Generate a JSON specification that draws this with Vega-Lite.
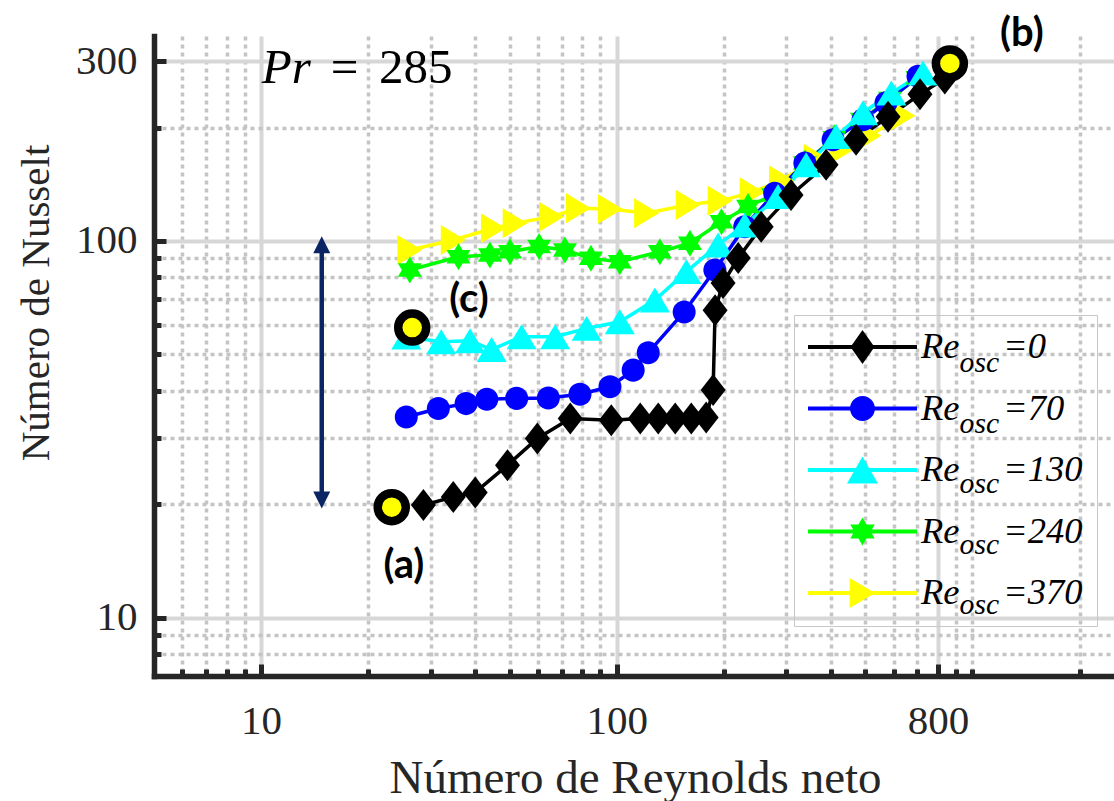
{
  "$schema": "https://vega.github.io/schema/vega-lite/v6.json",
  "width": 960,
  "height": 640,
  "autosize": {"type": "none"},
  "padding": {"left": 154, "top": 36, "right": 0, "bottom": 125},
  "background": "white",
  "config": {"view": {"stroke": null}},
  "datasets": {
    "curves": [
      {"series": "370", "Re": 26.2, "Nu": 94.6}, {"series": "370", "Re": 34.7, "Nu": 100.6}, {"series": "370", "Re": 45.0, "Nu": 108.1}, {"series": "370", "Re": 51.8, "Nu": 111.4}, {"series": "370", "Re": 65.6, "Nu": 116.0}, {"series": "370", "Re": 78.0, "Nu": 122.2}, {"series": "370", "Re": 95.9, "Nu": 121.6}, {"series": "370", "Re": 121.3, "Nu": 118.5}, {"series": "370", "Re": 158.8, "Nu": 124.7}, {"series": "370", "Re": 195.3, "Nu": 127.8}, {"series": "370", "Re": 240.2, "Nu": 134.6}, {"series": "370", "Re": 290.4, "Nu": 144.8}, {"series": "370", "Re": 363.4, "Nu": 165.2}, {"series": "370", "Re": 434.9, "Nu": 176.2}, {"series": "370", "Re": 512, "Nu": 190.3}, {"series": "370", "Re": 638, "Nu": 215},
      {"series": "240", "Re": 26.2, "Nu": 83.7}, {"series": "240", "Re": 35.9, "Nu": 90.8}, {"series": "240", "Re": 44.0, "Nu": 91.8}, {"series": "240", "Re": 50.1, "Nu": 93.6}, {"series": "240", "Re": 60.5, "Nu": 96.6}, {"series": "240", "Re": 71.5, "Nu": 94.6}, {"series": "240", "Re": 84.6, "Nu": 89.9}, {"series": "240", "Re": 102, "Nu": 88.1}, {"series": "240", "Re": 132.2, "Nu": 93.6}, {"series": "240", "Re": 160.6, "Nu": 98.6}, {"series": "240", "Re": 197, "Nu": 112.5}, {"series": "240", "Re": 234, "Nu": 123.4}, {"series": "240", "Re": 275, "Nu": 132.5}, {"series": "240", "Re": 338, "Nu": 161}, {"series": "240", "Re": 409, "Nu": 188}, {"series": "240", "Re": 489, "Nu": 210}, {"series": "240", "Re": 586, "Nu": 238.7}, {"series": "240", "Re": 700, "Nu": 271},
      {"series": "70", "Re": 25.6, "Nu": 34.1}, {"series": "70", "Re": 31.5, "Nu": 35.9}, {"series": "70", "Re": 37.7, "Nu": 37.0}, {"series": "70", "Re": 43.1, "Nu": 38.0}, {"series": "70", "Re": 52.3, "Nu": 38.2}, {"series": "70", "Re": 64.2, "Nu": 38.3}, {"series": "70", "Re": 78.8, "Nu": 39.2}, {"series": "70", "Re": 95.7, "Nu": 41.0}, {"series": "70", "Re": 111.2, "Nu": 45.4}, {"series": "70", "Re": 122.6, "Nu": 50.5}, {"series": "70", "Re": 154.7, "Nu": 64.8}, {"series": "70", "Re": 188.7, "Nu": 83.7}, {"series": "70", "Re": 229, "Nu": 109.1}, {"series": "70", "Re": 278, "Nu": 133.9}, {"series": "70", "Re": 338, "Nu": 160.9}, {"series": "70", "Re": 405.6, "Nu": 185.6}, {"series": "70", "Re": 492.5, "Nu": 209.8}, {"series": "70", "Re": 571.5, "Nu": 232.8}, {"series": "70", "Re": 703, "Nu": 273.5},
      {"series": "130", "Re": 25.6, "Nu": 55.6}, {"series": "130", "Re": 32.1, "Nu": 54.0}, {"series": "130", "Re": 38.7, "Nu": 54.3}, {"series": "130", "Re": 44.5, "Nu": 51.5}, {"series": "130", "Re": 54.0, "Nu": 55.7}, {"series": "130", "Re": 67.1, "Nu": 55.7}, {"series": "130", "Re": 82.3, "Nu": 58.6}, {"series": "130", "Re": 102, "Nu": 61.0}, {"series": "130", "Re": 128, "Nu": 69.7}, {"series": "130", "Re": 157, "Nu": 82.9}, {"series": "130", "Re": 192.8, "Nu": 97.6}, {"series": "130", "Re": 229, "Nu": 110.3}, {"series": "130", "Re": 284, "Nu": 131.2}, {"series": "130", "Re": 340.7, "Nu": 159.3}, {"series": "130", "Re": 413.6, "Nu": 189.4}, {"series": "130", "Re": 492.5, "Nu": 219}, {"series": "130", "Re": 591.5, "Nu": 247}, {"series": "130", "Re": 726, "Nu": 279},
      {"series": "0", "Re": 28.6, "Nu": 19.9}, {"series": "0", "Re": 34.7, "Nu": 20.9}, {"series": "0", "Re": 40.0, "Nu": 21.5}, {"series": "0", "Re": 49.3, "Nu": 25.4}, {"series": "0", "Re": 59.8, "Nu": 29.9}, {"series": "0", "Re": 74.0, "Nu": 33.8}, {"series": "0", "Re": 96.5, "Nu": 33.4}, {"series": "0", "Re": 116.4, "Nu": 33.8}, {"series": "0", "Re": 130.8, "Nu": 33.8}, {"series": "0", "Re": 146, "Nu": 33.8}, {"series": "0", "Re": 162, "Nu": 33.8}, {"series": "0", "Re": 178.4, "Nu": 34.0}, {"series": "0", "Re": 186.6, "Nu": 40.2}, {"series": "0", "Re": 189, "Nu": 65.5}, {"series": "0", "Re": 199, "Nu": 77.3}, {"series": "0", "Re": 219.5, "Nu": 90.1}, {"series": "0", "Re": 254.7, "Nu": 109}, {"series": "0", "Re": 309, "Nu": 132.5}, {"series": "0", "Re": 387.7, "Nu": 159.3}, {"series": "0", "Re": 470.8, "Nu": 185.6}, {"series": "0", "Re": 579, "Nu": 213.7}, {"series": "0", "Re": 712, "Nu": 245}, {"series": "0", "Re": 836, "Nu": 270}
    ],
    "seriesList": [{"series": "0"}, {"series": "70"}, {"series": "130"}, {"series": "240"}, {"series": "370"}],
    "highlights": [{"x": 23.3, "y": 19.65}, {"x": 864, "y": 296}, {"x": 26.6, "y": 58.9}],
    "letters": [{"label": "(a)", "x": 25.2, "y": 13.71}, {"label": "(b)", "x": 1377, "y": 353.5}, {"label": "(c)", "x": 38.4, "y": 69.6}],
    "arrow": [{"x": 14.81, "top": 97.7, "bottom": 20.53}],
    "prVar": [{"label": "Pr", "x": 10.05, "y": 262}],
    "prVal": [{"label": "=", "x": 15.71, "y": 262}, {"label": "285", "x": 21.44, "y": 262}]
  },
  "layer": [
    {
      "data": {"name": "curves"},
      "mark": {"type": "line", "strokeWidth": 3.5},
      "encoding": {
        "x": {
          "field": "Re", "type": "quantitative",
          "scale": {"type": "log", "domain": [5, 2500], "nice": false},
          "axis": {
            "values": [10, 100, 800], "format": "d", "orient": "bottom",
            "grid": true, "gridColor": "#d7d7d7", "gridWidth": 4,
            "ticks": true, "tickSize": -12, "tickWidth": 5, "tickColor": "#262626",
            "domain": true, "domainColor": "#262626", "domainWidth": 5.5, "domainCap": "square",
            "labelFont": "Liberation Serif", "labelFontSize": 41, "labelColor": "#262626",
            "labelBaseline": "alphabetic", "labelPadding": 69, "labelFlush": false, "labelOverlap": false,
            "title": "Número de Reynolds neto", "titleFont": "Liberation Serif", "titleFontSize": 47,
            "titleFontWeight": "normal", "titleColor": "#262626", "titleX": 481, "titleY": 116,
            "titleAlign": "center", "titleBaseline": "alphabetic", "titleAngle": 0
          }
        },
        "y": {
          "field": "Nu", "type": "quantitative",
          "scale": {"type": "log", "domain": [7, 350], "nice": false},
          "axis": {
            "values": [10, 100, 300], "format": "d", "orient": "left",
            "grid": true, "gridColor": "#d7d7d7", "gridWidth": 4,
            "ticks": true, "tickSize": -12, "tickWidth": 5, "tickColor": "#262626",
            "domain": true, "domainColor": "#262626", "domainWidth": 5.5, "domainCap": "square",
            "labelFont": "Liberation Serif", "labelFontSize": 41, "labelColor": "#262626",
            "labelPadding": 29, "labelBaseline": "middle", "labelAlign": "right", "labelFlush": false, "labelOverlap": false,
            "title": "Número de Nusselt", "titleFont": "Liberation Serif", "titleFontSize": 41,
            "titleFontWeight": "normal", "titleColor": "#262626", "titleX": -118, "titleY": 266.5,
            "titleAngle": 270, "titleAlign": "center", "titleBaseline": "middle"
          }
        },
        "color": {
          "field": "series", "type": "nominal",
          "scale": {"domain": ["0", "70", "130", "240", "370"], "range": ["#000000", "#0000ff", "#00ffff", "#00ff00", "#ffff00"]},
          "legend": null
        }
      }
    },
    {
      "data": {"name": "curves"},
      "mark": {"type": "point", "filled": true, "opacity": 1, "strokeWidth": 0, "size": 1024},
      "encoding": {
        "x": {
          "field": "Re", "type": "quantitative",
          "scale": {"type": "log", "domain": [5, 2500], "nice": false},
          "axis": {
            "values": [6, 7, 8, 9, 20, 30, 40, 50, 60, 70, 80, 90, 200, 300, 400, 500, 600, 700, 900, 1000, 2000],
            "orient": "bottom", "grid": true, "gridColor": "#c4c4c4", "gridDash": [4, 4], "gridWidth": 3.5,
            "ticks": true, "tickSize": -7, "tickWidth": 5, "tickColor": "#262626",
            "domain": false, "labels": false, "title": null
          }
        },
        "y": {
          "field": "Nu", "type": "quantitative",
          "scale": {"type": "log", "domain": [7, 350], "nice": false},
          "axis": {
            "values": [8, 9, 20, 30, 40, 50, 60, 70, 80, 90, 200],
            "orient": "left", "grid": true, "gridColor": "#c4c4c4", "gridDash": [4, 4], "gridWidth": 3.5,
            "ticks": true, "tickSize": -7, "tickWidth": 5, "tickColor": "#262626",
            "domain": false, "labels": false, "title": null
          }
        },
        "color": {
          "field": "series", "type": "nominal",
          "scale": {"domain": ["0", "70", "130", "240", "370"], "range": ["#000000", "#0000ff", "#00ffff", "#00ff00", "#ffff00"]},
          "legend": null
        },
        "shape": {
          "field": "series", "type": "nominal",
          "scale": {
            "domain": ["0", "70", "130", "240", "370"],
            "range": [
              "M0,-1L0.78,0L0,1L-0.78,0Z",
              "M-0.72,0A0.72,0.72 0 1,1 0.72,0A0.72,0.72 0 1,1 -0.72,0Z",
              "M0,-0.78L0.94,0.78L-0.94,0.78Z",
              "M0,-0.844L0.25,-0.422L0.75,-0.422L0.5,0L0.75,0.422L0.25,0.422L0,0.844L-0.25,0.422L-0.75,0.422L-0.5,0L-0.75,-0.422L-0.25,-0.422Z",
              "M0.78,0L-0.78,0.94L-0.78,-0.94Z"
            ]
          },
          "legend": null
        }
      }
    },
    {
      "data": {"name": "seriesList"},
      "transform": [{"filter": "false"}],
      "mark": {"type": "point", "filled": true, "opacity": 0},
      "encoding": {
        "fill": {
          "field": "series", "type": "nominal",
          "scale": {"domain": ["0", "70", "130", "240", "370"], "range": ["transparent", "transparent", "transparent", "transparent", "transparent"]},
          "legend": {
            "orient": "none", "legendX": 640, "legendY": 279, "direction": "vertical", "title": null,
            "padding": 14, "strokeColor": "#c8c8c8",
            "symbolSize": 38025, "symbolStrokeWidth": 0, "symbolOpacity": 0,
            "clipHeight": 36, "rowPadding": 24.5, "labelOffset": 0,
            "labelFont": "Liberation Serif", "labelFontStyle": "italic", "labelFontSize": 36.5, "labelColor": "#000000", "labelLimit": 300,
            "labelExpr": "'=' + datum.label"
          }
        }
      }
    },
    {
      "data": {"name": "seriesList"},
      "transform": [{"filter": "false"}],
      "mark": {"type": "point", "filled": true, "opacity": 1, "strokeWidth": 0},
      "encoding": {
        "color": {
          "field": "series", "type": "nominal",
          "scale": {"domain": ["0", "70", "130", "240", "370"], "range": ["#000000", "#0000ff", "#00ffff", "#00ff00", "#ffff00"]},
          "legend": {
            "orient": "none", "legendX": 640, "legendY": 279, "direction": "vertical", "title": null,
            "padding": 14,
            "symbolSize": 11881, "symbolStrokeWidth": 0, "symbolOpacity": 1,
            "clipHeight": 36, "rowPadding": 24.5, "labelOffset": 4,
            "labelFont": "Liberation Serif", "labelFontStyle": "italic", "labelFontSize": 36.5, "labelColor": "#000000", "labelLimit": 300,
            "labelExpr": "'Re'"
          }
        },
        "shape": {
          "field": "series", "type": "nominal",
          "scale": {
            "domain": ["0", "70", "130", "240", "370"],
            "range": [
              "M-1,-0.037H1V0.037H-1ZM0,-0.312L0.22,0L0,0.312L-0.22,0Z",
              "M-1,-0.037H1V0.037H-1ZM-0.229,0A0.229,0.229 0 1,1 0.229,0A0.229,0.229 0 1,1 -0.229,0Z",
              "M-1,-0.037H1V0.037H-1ZM0,-0.248L0.284,0.248L-0.284,0.248Z",
              "M-1,-0.037H1V0.037H-1ZM0,-0.257L0.075,-0.1285L0.225,-0.1285L0.15,0L0.225,0.1285L0.075,0.1285L0,0.257L-0.075,0.1285L-0.225,0.1285L-0.15,0L-0.225,-0.1285L-0.075,-0.1285Z",
              "M-1,-0.037H1V0.037H-1ZM0.235,0L-0.235,0.275L-0.235,-0.275Z"
            ]
          },
          "legend": {
            "orient": "none", "legendX": 640, "legendY": 279, "direction": "vertical", "title": null,
            "padding": 14,
            "symbolSize": 11881, "symbolStrokeWidth": 0, "symbolOpacity": 1,
            "clipHeight": 36, "rowPadding": 24.5, "labelOffset": 4,
            "labelFont": "Liberation Serif", "labelFontStyle": "italic", "labelFontSize": 36.5, "labelColor": "#000000", "labelLimit": 300,
            "labelExpr": "'Re'"
          }
        }
      }
    },
    {
      "data": {"name": "seriesList"},
      "transform": [{"filter": "false"}],
      "mark": {"type": "point", "filled": false, "opacity": 1},
      "encoding": {
        "stroke": {
          "field": "series", "type": "nominal",
          "scale": {"domain": ["0", "70", "130", "240", "370"], "range": ["transparent", "transparent", "transparent", "transparent", "transparent"]},
          "legend": {
            "orient": "none", "legendX": 776, "legendY": 309, "direction": "vertical", "title": null,
            "padding": 0, "symbolSize": 1, "symbolStrokeWidth": 0, "symbolOpacity": 0,
            "clipHeight": 36, "rowPadding": 24.5, "labelOffset": 0,
            "labelFont": "Liberation Serif", "labelFontStyle": "italic", "labelFontSize": 29.6, "labelColor": "#000000", "labelLimit": 200,
            "labelExpr": "'osc'"
          }
        }
      }
    },
    {
      "data": {"name": "arrow"},
      "mark": {"type": "rule", "color": "#0b2463", "strokeWidth": 4.5},
      "encoding": {
        "x": {"field": "x", "type": "quantitative", "axis": null},
        "y": {"field": "top", "type": "quantitative", "axis": null},
        "y2": {"field": "bottom"}
      }
    },
    {
      "data": {"name": "arrow"},
      "mark": {"type": "point", "shape": "M0,-1L1,1L-1,1Z", "size": 289, "filled": true, "opacity": 1, "color": "#0b2463", "strokeWidth": 0},
      "encoding": {
        "x": {"field": "x", "type": "quantitative", "axis": null},
        "y": {"field": "top", "type": "quantitative", "axis": null}
      }
    },
    {
      "data": {"name": "arrow"},
      "mark": {"type": "point", "shape": "M0,1L1,-1L-1,-1Z", "size": 289, "filled": true, "opacity": 1, "color": "#0b2463", "strokeWidth": 0},
      "encoding": {
        "x": {"field": "x", "type": "quantitative", "axis": null},
        "y": {"field": "bottom", "type": "quantitative", "axis": null}
      }
    },
    {
      "data": {"name": "highlights"},
      "mark": {"type": "point", "shape": "circle", "size": 784, "fill": "#ffff00", "fillOpacity": 1, "stroke": "#000000", "strokeWidth": 8.5, "opacity": 1},
      "encoding": {
        "x": {"field": "x", "type": "quantitative", "axis": null},
        "y": {"field": "y", "type": "quantitative", "axis": null}
      }
    },
    {
      "data": {"name": "letters"},
      "mark": {"type": "text", "font": "Lato", "fontWeight": "bold", "fontSize": 40, "color": "#000000", "align": "center", "baseline": "middle"},
      "encoding": {
        "x": {"field": "x", "type": "quantitative", "axis": null},
        "y": {"field": "y", "type": "quantitative", "axis": null},
        "text": {"field": "label"}
      }
    },
    {
      "data": {"name": "prVar"},
      "mark": {"type": "text", "font": "Liberation Serif", "fontStyle": "italic", "fontSize": 49, "color": "#000000", "align": "left", "baseline": "alphabetic"},
      "encoding": {
        "x": {"field": "x", "type": "quantitative", "axis": null},
        "y": {"field": "y", "type": "quantitative", "axis": null},
        "text": {"field": "label"}
      }
    },
    {
      "data": {"name": "prVal"},
      "mark": {"type": "text", "font": "Liberation Serif", "fontSize": 49, "color": "#000000", "align": "left", "baseline": "alphabetic"},
      "encoding": {
        "x": {"field": "x", "type": "quantitative", "axis": null},
        "y": {"field": "y", "type": "quantitative", "axis": null},
        "text": {"field": "label"}
      }
    }
  ],
  "resolve": {
    "scale": {"color": "independent", "shape": "independent", "fill": "independent", "stroke": "independent"},
    "axis": {"x": "independent", "y": "independent"}
  }
}
